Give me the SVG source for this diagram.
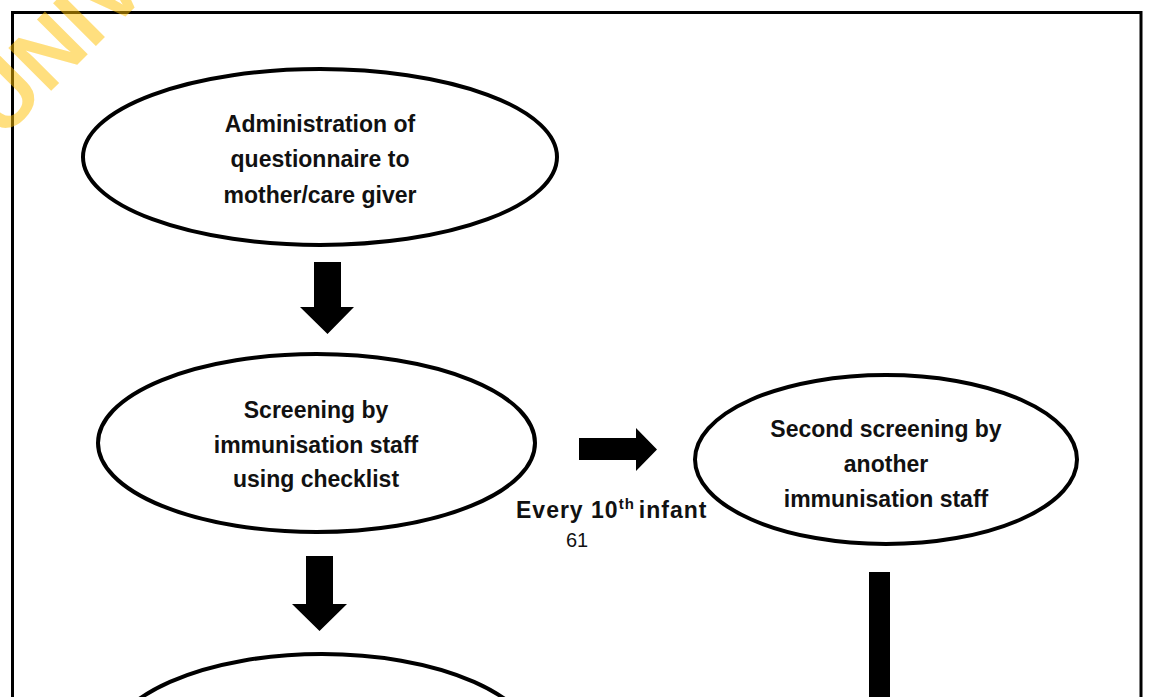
<svg xmlns="http://www.w3.org/2000/svg" width="1151" height="697" viewBox="0 0 1151 697">
<style>
.node{fill:#fff;stroke:#000;stroke-width:4}
.lbl{font-family:"Liberation Sans",Arial,sans-serif;font-weight:bold;font-size:23px;fill:#111;text-anchor:middle}
.arrow{fill:#000;stroke:none}
</style>
<rect x="0" y="0" width="1151" height="697" fill="#fff"/>
<rect id="frame" x="12.5" y="12.5" width="1128.5" height="720" fill="none" stroke="#000" stroke-width="3"/>
<g id="node-admin">
<ellipse class="node" cx="320" cy="157" rx="237" ry="88"/>
<text class="lbl" x="320" y="132">Administration of</text>
<text class="lbl" x="320" y="167">questionnaire to</text>
<text class="lbl" x="320" y="203">mother/care giver</text>
</g>
<g id="node-screening">
<ellipse class="node" cx="316.5" cy="443" rx="218.5" ry="89"/>
<text class="lbl" x="316" y="418">Screening by</text>
<text class="lbl" x="316" y="453">immunisation staff</text>
<text class="lbl" x="316" y="487">using checklist</text>
</g>
<g id="node-second">
<ellipse class="node" cx="886" cy="459.5" rx="191" ry="84.5"/>
<text class="lbl" x="886" y="437">Second screening by</text>
<text class="lbl" x="886" y="472">another</text>
<text class="lbl" x="886" y="507">immunisation staff</text>
</g>
<g id="node-bottom">
<ellipse class="node" cx="322" cy="749" rx="215" ry="95"/>
</g>
<g id="connectors">
<polygon class="arrow" points="314,262 341,262 341,307 354,307 327.5,334 300,307 314,307"/>
<polygon class="arrow" points="306,556 333,556 333,604 347,604 319.5,631 292,604 306,604"/>
<polygon class="arrow" points="579,438 636,438 636,428 657,449.5 636,471 636,460 579,460"/>
<rect class="arrow" x="869" y="572" width="21" height="130"/>
<text class="lbl" x="516" y="518" style="text-anchor:start;letter-spacing:1px">Every 10<tspan font-size="15" dy="-9">th</tspan><tspan dx="4" dy="9">infant</tspan></text>
</g>
<text x="577" y="547" font-family="'Liberation Sans',Arial,sans-serif" font-size="20" fill="#111" text-anchor="middle">61</text>
<text x="2" y="140" transform="rotate(-45 2 140)" font-family="'Liberation Sans',Arial,sans-serif" font-weight="bold" font-size="88" fill="#FFC000" opacity="0.5">UNIV</text>
</svg>
